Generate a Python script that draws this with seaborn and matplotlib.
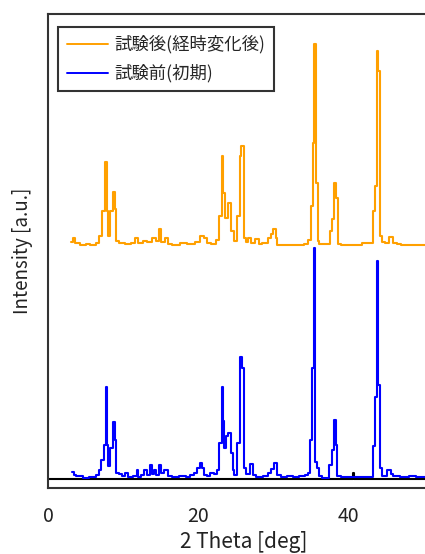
import matplotlib
matplotlib.use("Agg")
import matplotlib.pyplot as plt
import seaborn as sns
import pandas as pd
from matplotlib.lines import Line2D

# ---- data (2-theta in deg, intensity in arbitrary units) ----
before_x = [3.15, 3.4, 3.7, 4.6, 5.4, 6.4, 6.8, 7.1, 7.4, 7.7, 7.85, 8.0, 8.3, 8.7, 8.85, 9.05,
            9.4, 9.8, 10.3, 10.7, 11.3, 11.8, 12.0, 12.4, 12.8, 13.1, 13.5, 13.8, 14.1, 14.4, 14.7,
            15.0, 15.4, 15.9, 16.5, 17.4, 18.3, 18.9, 19.4, 19.8, 20.2, 20.5, 20.8, 21.1, 21.6, 22.1,
            22.5, 22.8, 23.1, 23.3, 23.45, 23.7, 23.95, 24.4, 24.55, 24.8, 25.2, 25.5, 25.75, 26.0,
            26.3, 26.8, 27.2, 27.7, 28.6, 29.2, 29.7, 30.0, 30.4, 31.0, 31.8, 32.6, 33.4, 34.2, 34.6,
            34.9, 35.15, 35.4, 35.55, 35.8, 36.0, 36.5, 37.4, 37.8, 38.05, 38.25, 38.45, 39.0, 40.8,
            42.0, 43.2, 43.45, 43.7, 43.95, 44.1, 44.4, 45.1, 45.6, 45.9, 46.8, 48.0, 49.0, 50.5, 52.0]
before_y = [6, 3, 2, 0, 1, 3, 8, 18, 33, 91, 33, 12, 30, 56, 38, 5,
            4, 2, 5, 1, 2, 8, 1, 3, 8, 3, 13, 4, 8, 3, 13,
            5, 8, 2, 1, 2, 1, 3, 5, 10, 15, 10, 3, 2, 5, 4,
            8, 35, 91, 57, 30, 42, 45, 25, 8, 3, 35, 121, 110, 10,
            4, 14, 3, 1, 2, 5, 9, 15, 3, 1, 2, 1, 2, 3, 5,
            38, 110, 231, 16, 10, 2, 0, 13, 28, 58, 33, 2, 1, 1,
            1, 32, 81, 218, 93, 10, 2, 8, 4, 2, 1, 2, 1, 2, 2]

after_x = [3.1, 3.3, 3.6, 4.2, 5.0, 5.6, 6.4, 6.8, 7.2, 7.6, 7.8, 8.0, 8.3, 8.65, 8.9, 9.1,
           9.5, 10.2, 11.0, 11.6, 12.0, 12.6, 13.2, 13.8, 14.3, 14.7, 15.0, 15.6, 15.9, 16.5,
           17.5, 18.5, 19.5, 20.2, 20.7, 21.2, 21.7, 22.3, 22.8, 23.1, 23.3, 23.6, 24.0, 24.4,
           24.7, 25.2, 25.5, 25.7, 26.0, 26.3, 26.6, 27.0, 27.5, 28.0, 28.5, 29.2, 29.7, 29.95,
           30.3, 30.5, 34.0, 34.6, 34.95, 35.2, 35.4, 35.65, 35.85, 36.1, 37.0, 37.5, 37.8, 38.05,
           38.3, 38.55, 39.0, 41.7, 43.0, 43.2, 43.45, 43.7, 43.9, 44.15, 44.4, 44.8, 45.3, 45.9,
           46.4, 47.0, 52.0]
after_y = [4, 8, 3, 1, 2, 1, 3, 10, 35, 84, 35, 10, 35, 54, 37, 5,
           3, 2, 3, 8, 3, 5, 4, 8, 5, 17, 4, 8, 2, 1,
           3, 2, 4, 10, 8, 3, 2, 6, 30, 90, 53, 28, 43, 15,
           5, 30, 90, 100, 8, 4, 8, 3, 7, 2, 3, 8, 12, 17,
           8, 1, 2, 6, 40, 103, 202, 63, 5, 2, 2, 15, 27, 63,
           48, 2, 1, 3, 3, 35, 60, 195, 175, 10, 4, 3, 9, 3,
           2, 1, 1]

ref_x = [0.0, 40.5, 40.7, 52.0]
ref_y = [-1, 5, -1, -1]

labels = ["試験後(経時変化後)", "試験前(初期)"]
xticks = [0, 20, 40]

# ---- styling ----
sns.set_style("white")
plt.rcParams["font.family"] = ["Noto Sans CJK JP", "DejaVu Sans"]

OFFSET = 233
C_AFTER = "#FFA000"
C_BEFORE = "#0000FF"

fig = plt.figure(figsize=(4.25, 5.54), dpi=100)
ax = fig.add_axes([48 / 425, 66 / 554, 391 / 425, 474.5 / 554])

df_ref = pd.DataFrame({"x": ref_x, "y": ref_y})
df_b = pd.DataFrame({"x": before_x, "y": before_y})
df_a = pd.DataFrame({"x": after_x, "y": [v + OFFSET for v in after_y]})

sns.lineplot(data=df_ref, x="x", y="y", ax=ax, color="black", lw=1.5,
             drawstyle="steps-post", estimator=None, sort=False)
sns.lineplot(data=df_b, x="x", y="y", ax=ax, color=C_BEFORE, lw=1.5,
             drawstyle="steps-post", estimator=None, sort=False)
sns.lineplot(data=df_a, x="x", y="y", ax=ax, color=C_AFTER, lw=1.5,
             drawstyle="steps-post", estimator=None, sort=False)

ax.set_xlim(0, 52)
ax.set_ylim(-9.7, 465.3)
ax.set_xticks(xticks)
ax.set_xticklabels([str(t) for t in xticks])
ax.set_yticks([])
ax.tick_params(axis="x", length=0, labelsize=14, pad=13, colors="#222222")
ax.set_xlabel("2 Theta [deg]", fontsize=15, labelpad=3, color="#222222")
ax.set_ylabel("Intensity [a.u.]", fontsize=13.5, labelpad=11, color="#222222")

for s in ax.spines.values():
    s.set_color("#333333")
    s.set_linewidth(1.5)

handles = [Line2D([], [], color=C_AFTER, lw=1.4), Line2D([], [], color=C_BEFORE, lw=1.4)]
leg = ax.legend(handles, labels, loc="upper left", bbox_to_anchor=(10 / 391, 1 - 13 / 474.5),
                fontsize=12.5, frameon=True, fancybox=False, edgecolor="black",
                handlelength=2.4, handletextpad=0.35, borderpad=0.5, labelspacing=0.6,
                borderaxespad=0)
leg.get_frame().set_linewidth(1.5)

fig.savefig("out.png", dpi=100)
